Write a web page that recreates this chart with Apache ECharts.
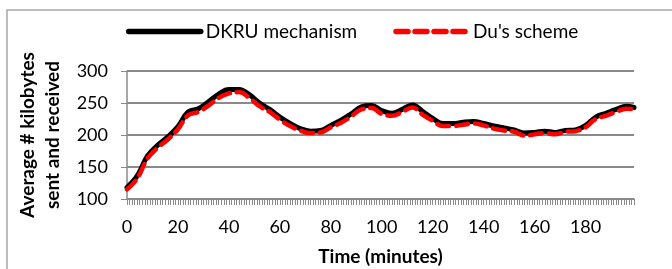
<!DOCTYPE html>
<html>
<head>
<meta charset="utf-8">
<script src="https://cdn.jsdelivr.net/npm/echarts@6/dist/echarts.min.js"></script>
<style>
  html, body { margin: 0; padding: 0; background: #fff; }
  #main { width: 672px; height: 269px; }
</style>
</head>
<body>
<div id="main"></div>
<script>
// time points (minutes)
const times = [0, 4, 8, 12, 16, 20, 24, 28, 32, 36, 40, 44, 48, 52, 56, 60, 64, 68, 72, 76,
  80, 84, 88, 92, 96, 100, 104, 108, 112, 116, 120, 124, 128, 132, 136, 140, 144, 148, 152, 156,
  160, 164, 168, 172, 176, 180, 184, 188, 192, 196, 199]
// average kilobytes sent and received
const dkru = [118, 136, 167, 184, 197, 213, 236, 241, 252, 264, 271, 271, 263, 250, 240, 228, 218, 210, 206, 207,
  215, 223, 233, 244, 246, 238, 234, 240, 247, 237, 226, 218, 218, 220, 221, 218, 214, 211, 208, 203,
  204, 206, 204, 207, 208, 215, 228, 234, 240, 245, 243]
const du = [115, 132, 163, 180, 193, 209, 231, 236, 246, 258, 265, 267, 258, 245, 236, 224, 214, 207, 203, 204,
  212, 219, 229, 240, 242, 233, 230, 236, 243, 232, 222, 214, 214, 216, 218, 215, 210, 207, 205, 199,
  201, 203, 201, 205, 206, 212, 225, 230, 236, 241, 240]
const seriesNames = ['DKRU mechanism', "Du's scheme"]

const font = 'Lato, "Open Sans", sans-serif'
const gridColor = '#8a8a8a'

const chart = echarts.init(document.getElementById('main'))

chart.setOption({
  animation: false,
  textStyle: { fontFamily: font },
  graphic: [{
    type: 'rect',
    shape: { x: 7, y: 10, width: 720, height: 320 },
    style: { fill: 'none', stroke: '#a8a8a8', lineWidth: 1.5 },
    silent: true
  }],
  legend: {
    left: 121,
    top: 17,
    itemWidth: 72,
    itemHeight: 12,
    itemGap: 36,
    itemStyle: { opacity: 0 },
    lineStyle: { width: 5.5, cap: 'round' },
    textStyle: { fontSize: 19, color: '#000', fontFamily: font },
    data: seriesNames
  },
  grid: { left: 127, right: 38, top: 71, bottom: 70 },
  xAxis: {
    type: 'value',
    min: 0,
    max: 199,
    interval: 20,
    name: 'Time (minutes)',
    nameLocation: 'middle',
    nameGap: 48,
    nameTextStyle: { fontSize: 19, fontWeight: 'bold', color: '#000', fontFamily: font },
    axisLine: { lineStyle: { color: gridColor, width: 1.5 } },
    axisTick: { show: true, length: 6, lineStyle: { color: gridColor } },
    minorTick: { show: true, splitNumber: 20, length: 6, lineStyle: { color: gridColor } },
    axisLabel: { fontSize: 18, color: '#000', margin: 19, showMaxLabel: false },
    splitLine: { show: false }
  },
  yAxis: {
    type: 'value',
    min: 100,
    max: 300,
    interval: 50,
    name: 'Average # kilobytes\nsent and received',
    nameLocation: 'middle',
    nameGap: 62,
    nameTextStyle: { fontSize: 19, fontWeight: 'bold', color: '#000', lineHeight: 25, fontFamily: font },
    axisLine: { show: true, lineStyle: { color: gridColor, width: 1.5 } },
    axisTick: { show: true, length: 6, lineStyle: { color: gridColor } },
    axisLabel: { fontSize: 18, color: '#000', margin: 19 },
    splitLine: { lineStyle: { color: gridColor, width: 1.8 } }
  },
  series: [
    {
      name: seriesNames[0],
      type: 'line',
      smooth: 0.4,
      symbol: 'none',
      data: times.map((t, i) => [t, dkru[i]]),
      lineStyle: { color: '#000', width: 5, cap: 'round' },
      itemStyle: { color: '#000' }
    },
    {
      name: seriesNames[1],
      type: 'line',
      smooth: 0.4,
      symbol: 'none',
      data: times.map((t, i) => [t, du[i]]),
      lineStyle: { color: '#ff0000', width: 4.5, type: [12, 7], cap: 'round' },
      itemStyle: { color: '#ff0000' }
    }
  ]
})
</script>
</body>
</html>
